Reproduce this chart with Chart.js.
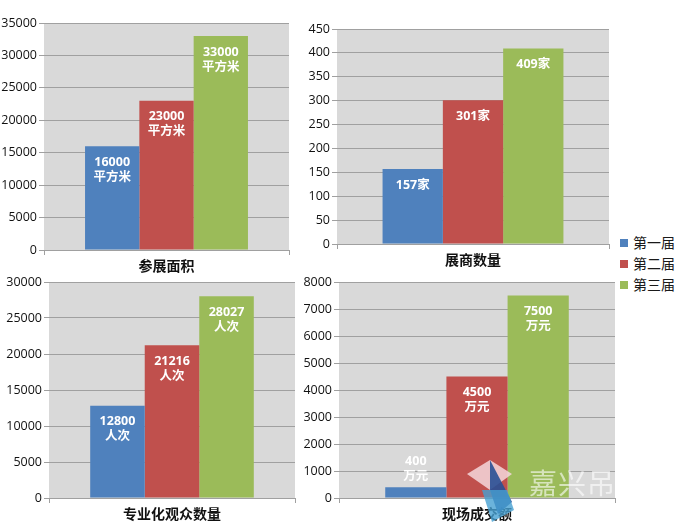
<!DOCTYPE html>
<html><head><meta charset="utf-8">
<script src="https://cdn.jsdelivr.net/npm/chart.js@4.4.1/dist/chart.umd.min.js"></script>
<style>
html,body{margin:0;padding:0;background:#fff;width:700px;height:531px;overflow:hidden;position:relative;}
.box{position:absolute;}
.top{z-index:2;}
.bot{z-index:1;}
#legend{position:absolute;left:620px;top:232px;font:14px 'Noto Sans CJK SC',sans-serif;color:#1a1a1a;}
#legend div{height:21px;line-height:21px;white-space:nowrap;}
#legend span{display:inline-block;width:8px;height:8px;margin-right:5px;vertical-align:1px;}
#wm{position:absolute;left:529px;top:462px;font:28px 'Noto Sans CJK SC',sans-serif;color:rgba(255,255,255,0.6);letter-spacing:1px;white-space:nowrap;z-index:4;}
#logo{position:absolute;left:462px;top:452px;z-index:3;}
</style></head><body>
<div class="box bot" style="left:0;top:270px"><canvas id="c3" width="300" height="261"></canvas></div>
<div class="box bot" style="left:300px;top:270px"><canvas id="c4" width="320" height="261"></canvas></div>
<div class="box top" style="left:0;top:0"><canvas id="c1" width="300" height="280"></canvas></div>
<div class="box top" style="left:300px;top:0"><canvas id="c2" width="320" height="280"></canvas></div>
<div id="legend"></div>
<svg id="logo" width="60" height="75" viewBox="0 0 60 75">
  <polygon points="5,22 28,8 50,22 28,38" fill="rgba(245,215,220,0.85)"/>
  <polygon points="28,8 50,50 36,62 28,38" fill="rgba(40,80,150,0.9)"/>
  <polygon points="20,38 45,38 52,58 30,70" fill="rgba(70,160,210,0.8)"/>
</svg>
<div id="wm">嘉兴吊顶展</div>
<script>
const seriesNames = ['第一届', '第二届', '第三届'];
const chartTitles = ['参展面积', '展商数量', '专业化观众数量', '现场成交额'];
const areaValues = [16000, 23000, 33000];
const exhibitorValues = [157, 301, 409];
const visitorValues = [12800, 21216, 28027];
const dealValues = [400, 4500, 7500];
const valueUnits = ['平方米', '家', '人次', '万元'];
const unitOnNewLine = [true, false, true, true];
const yMaxes = [35000, 450, 30000, 8000];
const ySteps = [5000, 50, 5000, 1000];

const seriesColors = ['#4f81bd', '#c0504d', '#9bbb59'];
const FONT = "'Open Sans','Noto Sans CJK SC',sans-serif";
Chart.defaults.font.family = FONT;
Chart.defaults.color = '#1a1a1a';

const lg = document.getElementById('legend');
seriesNames.forEach((n, i) => {
  const d = document.createElement('div');
  d.innerHTML = '<span style="background:' + seriesColors[i] + '"></span>' + n;
  lg.appendChild(d);
});

const bgPlugin = {
  id: 'plotBg',
  beforeDraw(chart) {
    const a = chart.chartArea, ctx = chart.ctx;
    ctx.save();
    ctx.fillStyle = '#d9d9d9';
    ctx.fillRect(a.left, a.top, a.width, a.height);
    ctx.restore();
  }
};

const labelPlugin = {
  id: 'barLabels',
  afterDatasetsDraw(chart) {
    const ctx = chart.ctx;
    const unit = chart.options.plugins.barLabels.unit;
    const newLine = chart.options.plugins.barLabels.newLine;
    ctx.save();
    ctx.fillStyle = '#ffffff';
    ctx.font = 'bold 12.5px ' + FONT;
    ctx.textAlign = 'center';
    ctx.textBaseline = 'middle';
    chart.data.datasets.forEach((ds, di) => {
      const meta = chart.getDatasetMeta(di);
      meta.data.forEach((bar, i) => {
        const v = ds.data[i];
        const lines = newLine ? [String(v), unit] : [v + unit];
        const h = bar.base - bar.y;
        const lh = 15;
        let y0;
        if (h < lines.length * lh + 10) {
          y0 = bar.y - 11 - (lines.length - 1) * lh;
        } else {
          y0 = bar.y + 16;
        }
        lines.forEach((t, k) => ctx.fillText(t, bar.x, y0 + k * lh));
      });
    });
    ctx.restore();
  }
};

const chartValues = [areaValues, exhibitorValues, visitorValues, dealValues];
const layouts = [
  { id: 'c1', yW: 44, pad: { left: 0, right: 11, top: 23, bottom: 2 } },
  { id: 'c2', yW: 37, pad: { left: 0, right: 11, top: 29, bottom: 8 } },
  { id: 'c3', yW: 49, pad: { left: 0, right: 5, top: 12, bottom: 5 } },
  { id: 'c4', yW: 39, pad: { left: 0, right: 5, top: 12, bottom: 5 } }
];

layouts.forEach((L, ci) => {
  const vals = chartValues[ci];
  new Chart(document.getElementById(L.id), {
    type: 'bar',
    data: {
      labels: [chartTitles[ci]],
      datasets: seriesNames.map((n, si) => ({
        label: n,
        data: [vals[si]],
        backgroundColor: seriesColors[si],
        borderWidth: 0,
        categoryPercentage: 0.665,
        barPercentage: 1.0
      }))
    },
    options: {
      responsive: false,
      animation: false,
      devicePixelRatio: 1,
      layout: { padding: L.pad },
      plugins: {
        legend: { display: false },
        tooltip: { enabled: false },
        barLabels: { unit: valueUnits[ci], newLine: unitOnNewLine[ci] }
      },
      scales: {
        x: {
          offset: true,
          grid: { display: true, offset: true, drawOnChartArea: false, tickLength: 5, color: '#a0a0a0' },
          border: { display: true, color: '#a0a0a0' },
          ticks: { font: { size: 14, weight: 'bold' }, color: '#111', padding: 4 },
          afterFit(s) { s.height = 28; }
        },
        y: {
          min: 0, max: yMaxes[ci],
          ticks: { stepSize: ySteps[ci], font: { size: 12.5 }, color: '#111', padding: 2,
                   callback: (v) => String(v) },
          grid: { color: '#a0a0a0', tickLength: 5 },
          border: { display: false },
          afterFit(s) { s.width = L.yW; }
        }
      }
    },
    plugins: [bgPlugin, labelPlugin]
  });
});
</script>
</body></html>
